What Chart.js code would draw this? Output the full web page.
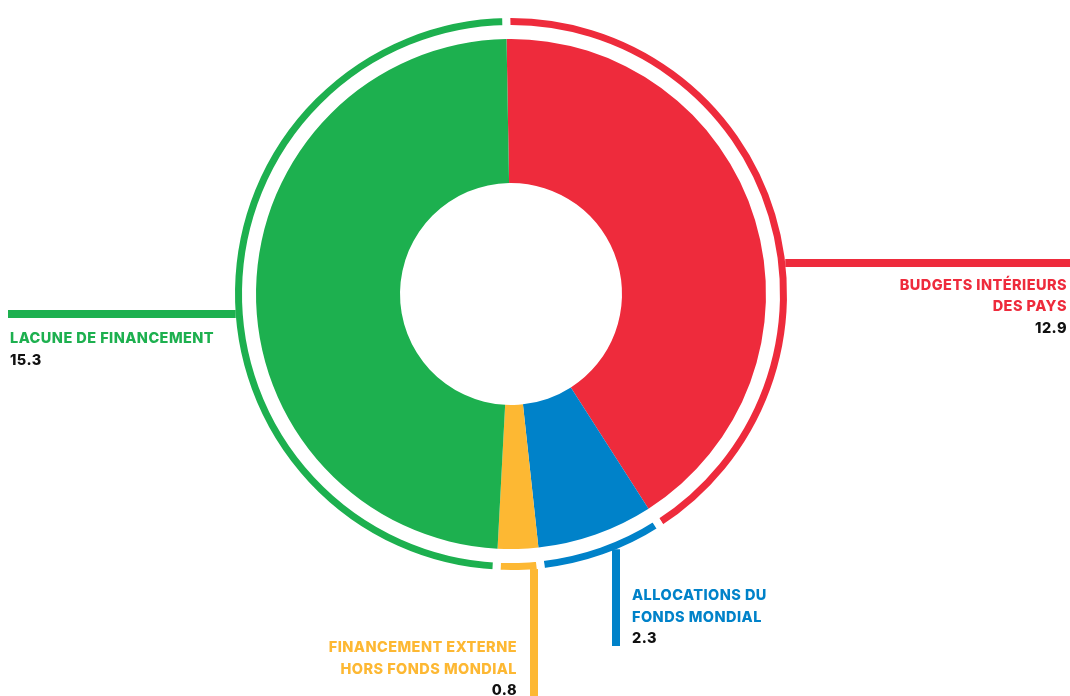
<!DOCTYPE html>
<html lang="fr">
<head>
<meta charset="UTF-8">
<title>Sources de financement</title>
<script src="https://cdn.jsdelivr.net/npm/chart.js@4"></script>
<style>
  html, body { margin: 0; padding: 0; background: #fff; }
  #wrap { position: relative; width: 1070px; height: 696px; }
</style>
</head>
<body>
<div id="wrap"><canvas id="donut"></canvas></div>
<script>
// Slices, clockwise from the top
const categories = ['BUDGETS INTÉRIEURS DES PAYS', 'ALLOCATIONS DU FONDS MONDIAL', 'FINANCEMENT EXTERNE HORS FONDS MONDIAL', 'LACUNE DE FINANCEMENT'];
const values = [12.9, 2.3, 0.8, 15.3];
const labelLines = [
  ['BUDGETS INTÉRIEURS', 'DES PAYS'],
  ['ALLOCATIONS DU', 'FONDS MONDIAL'],
  ['FINANCEMENT EXTERNE', 'HORS FONDS MONDIAL'],
  ['LACUNE DE FINANCEMENT']
];
const colors = ['#ee2b3c', '#0082c9', '#fdb833', '#1db04f'];

const ringBorder = 8;   // white stroke that cuts the gaps in the outer ring
const lineGap = 21.5;

// leader line for each slice: horizontal ones sit at a y offset from the centre,
// vertical ones at an x offset, and the text hangs off the free end
const callouts = [
  { side: 'right', offset: -31, align: 'right', dx: -3, dy: 26.5 },
  { side: 'down', offset: 105, end: 646, align: 'left', dx: 16, dy: -46 },
  { side: 'down', offset: 23, end: 696, align: 'right', dx: -17, dy: -44 },
  { side: 'left', offset: 20, end: 8, align: 'left', dx: 2, dy: 29 }
];

const calloutPlugin = {
  id: 'callouts',
  afterDatasetsDraw(chart) {
    const ctx = chart.ctx;
    const ring = chart.getDatasetMeta(0);
    ring.data.forEach((arc, i) => {
      const c = callouts[i];
      const r = arc.outerRadius - ringBorder / 2;
      const along = Math.sqrt(r * r - c.offset * c.offset);
      let ax, ay;
      ctx.save();
      ctx.strokeStyle = colors[i];
      ctx.lineWidth = 8;
      ctx.lineCap = 'butt';
      ctx.beginPath();
      if (c.side === 'right' || c.side === 'left') {
        const y = arc.y + c.offset;
        const x0 = c.side === 'right' ? arc.x + along : arc.x - along;
        const x1 = c.side === 'right' ? chart.width : c.end;
        ctx.moveTo(x0, y);
        ctx.lineTo(x1, y);
        ax = x1; ay = y;
      } else {
        const x = arc.x + c.offset;
        ctx.moveTo(x, arc.y + along);
        ctx.lineTo(x, c.end);
        ax = x; ay = c.end;
      }
      ctx.stroke();

      ctx.font = '800 14.5px Inter';
      ctx.letterSpacing = '0.45px';
      ctx.textAlign = c.align;
      ctx.textBaseline = 'alphabetic';
      const lines = labelLines[i];
      ctx.fillStyle = colors[i];
      lines.forEach((t, k) => ctx.fillText(t, ax + c.dx, ay + c.dy + k * lineGap));
      ctx.fillStyle = '#111';
      ctx.fillText(values[i].toFixed(1), ax + c.dx, ay + c.dy + lines.length * lineGap);
      ctx.restore();
    });
  }
};

new Chart(document.getElementById('donut'), {
  type: 'doughnut',
  data: {
    labels: categories,
    datasets: [
      { // thin outer ring
        data: values,
        backgroundColor: colors,
        borderColor: '#fff',
        borderWidth: ringBorder,
        borderAlign: 'center',
        weight: 15
      },
      { // blank band between ring and pie
        data: values,
        backgroundColor: 'rgba(0,0,0,0)',
        borderWidth: 0,
        weight: 10
      },
      { // main doughnut
        data: values,
        backgroundColor: colors,
        borderWidth: 0,
        weight: 144
      }
    ]
  },
  options: {
    responsive: true,
    maintainAspectRatio: false,
    animation: false,
    events: [],
    radius: 280,
    cutout: (111 / 280 * 100) + '%',
    rotation: -1,
    layout: { padding: { left: 0, right: 48, top: 0, bottom: 108 } },
    plugins: {
      legend: { display: false },
      tooltip: { enabled: false }
    }
  },
  plugins: [calloutPlugin]
});
</script>
</body>
</html>
